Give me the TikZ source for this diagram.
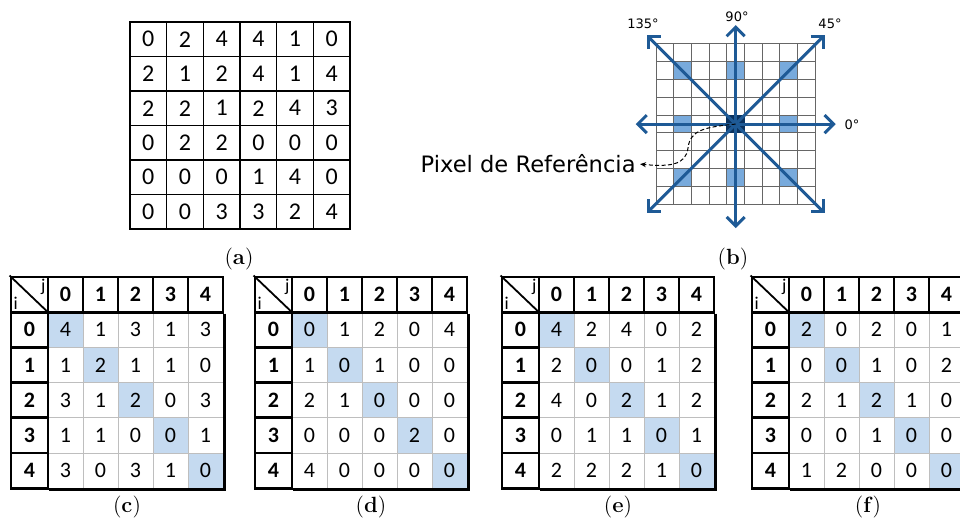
\documentclass[tikz,border=0pt]{standalone}
\usepackage{fontspec}
\usetikzlibrary{arrows.meta}
\newfontfamily\cellfont{Carlito}
\newfontfamily\labelfont{DejaVu Sans}
\definecolor{dirblue}{RGB}{30,90,150}
\definecolor{refnavy}{RGB}{10,50,95}
\definecolor{nbblue}{RGB}{120,170,220}
\definecolor{diagblue}{RGB}{197,218,240}
\definecolor{cellgray}{RGB}{190,190,190}

\tikzset{
  imgcell/.style={draw=black,line width=0.7pt,inner sep=0pt,
        minimum width=18.33pt,minimum height=17.25pt,font=\cellfont\fontsize{12}{14}\selectfont},
  datacell/.style={draw=cellgray,line width=0.5pt,inner sep=0pt,
        minimum width=17.5pt,minimum height=17.6pt,font=\cellfont\fontsize{11}{13}\selectfont},
  diagcell/.style={datacell,fill=diagblue},
  headcell/.style={draw=black,line width=1.4pt,inner sep=0pt,
        minimum width=17.5pt,minimum height=17.6pt,font=\cellfont\bfseries\fontsize{11}{13}\selectfont},
  sidecell/.style={headcell,minimum width=18.5pt},
  ijlabel/.style={inner sep=1.8pt,font=\cellfont\fontsize{9}{10}\selectfont},
  tableborder/.style={draw=black,line width=1.4pt},
  caption/.style={inner sep=0pt,font=\fontsize{11}{13}\selectfont},
  pxgrid/.style={draw=black!60,line width=0.5pt},
  nbpixel/.style={fill=nbblue},
  dirarrow/.style={draw=dirblue,line width=1.5pt,-{Straight Barb[length=4.5pt,width=9pt]}},
  anglelabel/.style={inner sep=0pt,font=\labelfont\fontsize{6.5}{8}\selectfont},
  refpointer/.style={draw=black,line width=0.5pt,dash pattern=on 2pt off 1.2pt,
        -{Stealth[length=3pt,width=2.5pt]}},
}

%% co-occurrence table: #1 = left edge, #2 = letter, #3 = rows
\newcommand{\cooctable}[3]{%
  % data cells, diagonal shaded
  \foreach \cells [count=\i from 0] in {#3} {
    \foreach \v [count=\j from 0] in \cells {
      \ifnum\i=\j
        \node[diagcell] (#2-\i-\j) at ({#1+54.5+35*\j},{329.8+35.2*\i}) {\v};
      \else
        \node[datacell] (#2-\i-\j) at ({#1+54.5+35*\j},{329.8+35.2*\i}) {\v};
      \fi
    }
  }
  % header row and column
  \foreach \j in {0,...,4}
    \node[headcell] (#2-h\j) at ({#1+54.5+35*\j},294.6) {\j};
  \foreach \i in {0,...,4}
    \node[sidecell] (#2-s\i) at ({#1+18.5},{329.8+35.2*\i}) {\i};
  \node[sidecell] (#2-corner) at ({#1+18.5},294.6) {};
  \draw[line width=0.9pt] (#2-corner.north west) -- (#2-corner.south east);
  \node[ijlabel,anchor=north east] (#2-j) at (#2-corner.north east) {j};
  \node[ijlabel,anchor=south west] (#2-i) at (#2-corner.south west) {i};
  % outer frame
  \draw[tableborder] (#2-h4.south east) |- (#2-s4.south east);
  \node[caption] (#2-cap) at ({#1+116},507) {(\textbf{#2})};
}

\begin{document}
\begin{tikzpicture}[x=0.5pt,y=-0.5pt]
  \useasboundingbox (0,0) rectangle (960,524);

  %% (a) image matrix
  \foreach \cells [count=\i from 0] in {{0,2,4,4,1,0},{2,1,2,4,1,4},{2,2,1,2,4,3},
                                       {0,2,2,0,0,0},{0,0,0,1,4,0},{0,0,3,3,2,4}}
    \foreach \v [count=\j from 0] in \cells
      \node[imgcell] (a-\i-\j) at ({148.33+36.67*\j},{39.25+34.5*\i}) {\v};
  \node[caption] (a-cap) at (239,259) {(\textbf{a})};

  %% (b) neighbourhood grid
  \foreach \a/\b in {1/1,4/1,7/1,1/4,7/4,1/7,4/7,7/7}
    \fill[nbpixel] ({656+17.7*\a},{44+17.8*\b}) rectangle +(17.7,17.8);
  \foreach \k in {0,...,9} {
    \draw[pxgrid] ({656+17.7*\k},44) -- +(0,160.2);
    \draw[pxgrid] (656,{44+17.8*\k}) -- +(159.3,0);
  }
  \node[fill=refnavy,minimum size=9.2pt,inner sep=0pt] (refpx) at (735.65,124.1) {};
  \foreach \ang/\len in {0/100,45/126,90/99,135/126,180/100,225/126,270/104,315/126} {
    \path (refpx.center) ++(-\ang:\len) coordinate (tip\ang);
    \draw[dirarrow] (refpx.center) -- (tip\ang);
  }
  \node[anglelabel] (lbl0) at (852,125) {0°};
  \node[anglelabel] (lbl45) at (830,24) {45°};
  \node[anglelabel] (lbl90) at (737,17) {90°};
  \node[anglelabel] (lbl135) at (643,24) {135°};
  \node[anchor=base east,inner xsep=2pt,inner ysep=0pt,
        font=\labelfont\fontsize{11.3}{13}\selectfont] (reflabel) at (640,173) {Pixel de Referência};
  \draw[refpointer] (refpx.center) .. controls (705,127) and (690,130) .. (688,148)
        .. controls (686,165) and (670,167) .. (reflabel.east);
  \node[caption] (b-cap) at (733,259) {(\textbf{b})};

  %% (c)-(f) co-occurrence matrices
  \cooctable{11}{c}{{4,1,3,1,3},{1,2,1,1,0},{3,1,2,0,3},{1,1,0,0,1},{3,0,3,1,0}}
  \cooctable{255}{d}{{0,1,2,0,4},{1,0,1,0,0},{2,1,0,0,0},{0,0,0,2,0},{4,0,0,0,0}}
  \cooctable{502}{e}{{4,2,4,0,2},{2,0,0,1,2},{4,0,2,1,2},{0,1,1,0,1},{2,2,2,1,0}}
  \cooctable{752}{f}{{2,0,2,0,1},{0,0,1,0,2},{2,1,2,1,0},{0,0,1,0,0},{1,2,0,0,0}}
\end{tikzpicture}
\end{document}
